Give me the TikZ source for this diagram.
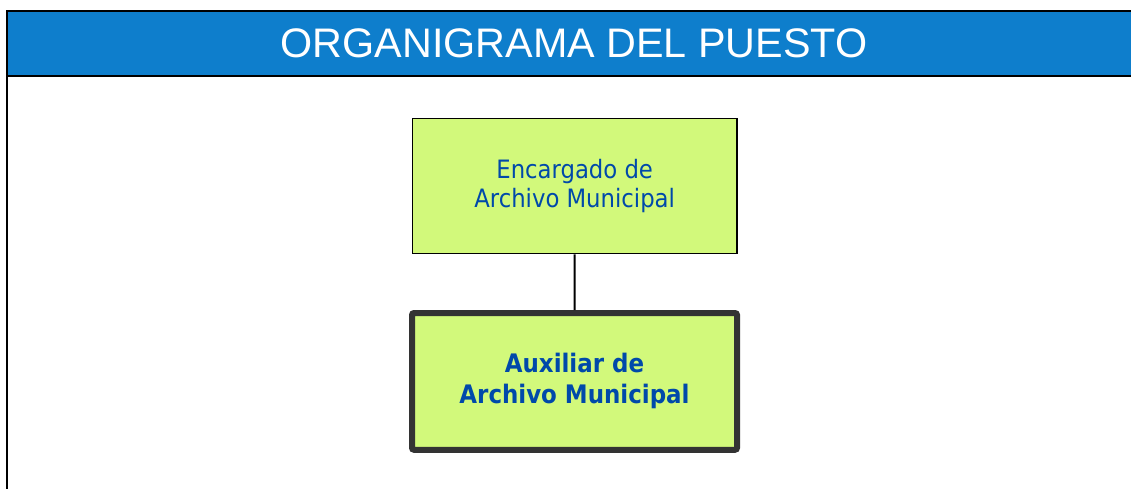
\documentclass[tikz,border=0pt]{standalone}
\usepackage{fontspec}
\setmainfont{Liberation Sans}
\newfontfamily\boxfont{DejaVu Sans Condensed}
\definecolor{headblue}{RGB}{14,126,204}
\definecolor{boxgreen}{RGB}{210,249,123}
\definecolor{textblue}{RGB}{0,73,170}
\definecolor{darkframe}{RGB}{51,51,51}
\tikzset{
    encbox/.style={draw=black, line width=1.8pt, fill=boxgreen, minimum width=324.5pt, minimum height=135pt,
        inner sep=0pt, align=center, text=textblue, font=\boxfont\fontsize{25.3}{29}\selectfont},
    auxbox/.style={draw=darkframe, line width=6pt, rounded corners=2pt, fill=boxgreen, minimum width=325pt,
        minimum height=136.7pt, inner sep=0pt, align=center, text=textblue, font=\boxfont\bfseries\fontsize{25.5}{31}\selectfont}
}
\begin{document}
\begin{tikzpicture}[x=1pt, y=-1pt]
        \useasboundingbox (0,0) rectangle (1131,488);

        % Header
        \fill[headblue] (7,11) rectangle (1135,75.7);
        \node[text=white, font=\fontsize{41.3}{48}\selectfont] (titulo) at (574,43.5) {ORGANIGRAMA DEL PUESTO};
        \draw[line width=2pt] (1135,11) -- (7,11) -- (7,492);
        \draw[line width=2pt] (7,75.7) -- (1135,75.7);

        % Boxes
        \node[encbox] (encargado) at (574.7,186) {Encargado de\\Archivo Municipal};
        \node[auxbox] (auxiliar) at (574.5,381.4) {Auxiliar de\\Archivo Municipal};

        % Connector
        \draw[line width=2pt] (encargado.south) -- (auxiliar.north);

    \end{tikzpicture}
\end{document}
